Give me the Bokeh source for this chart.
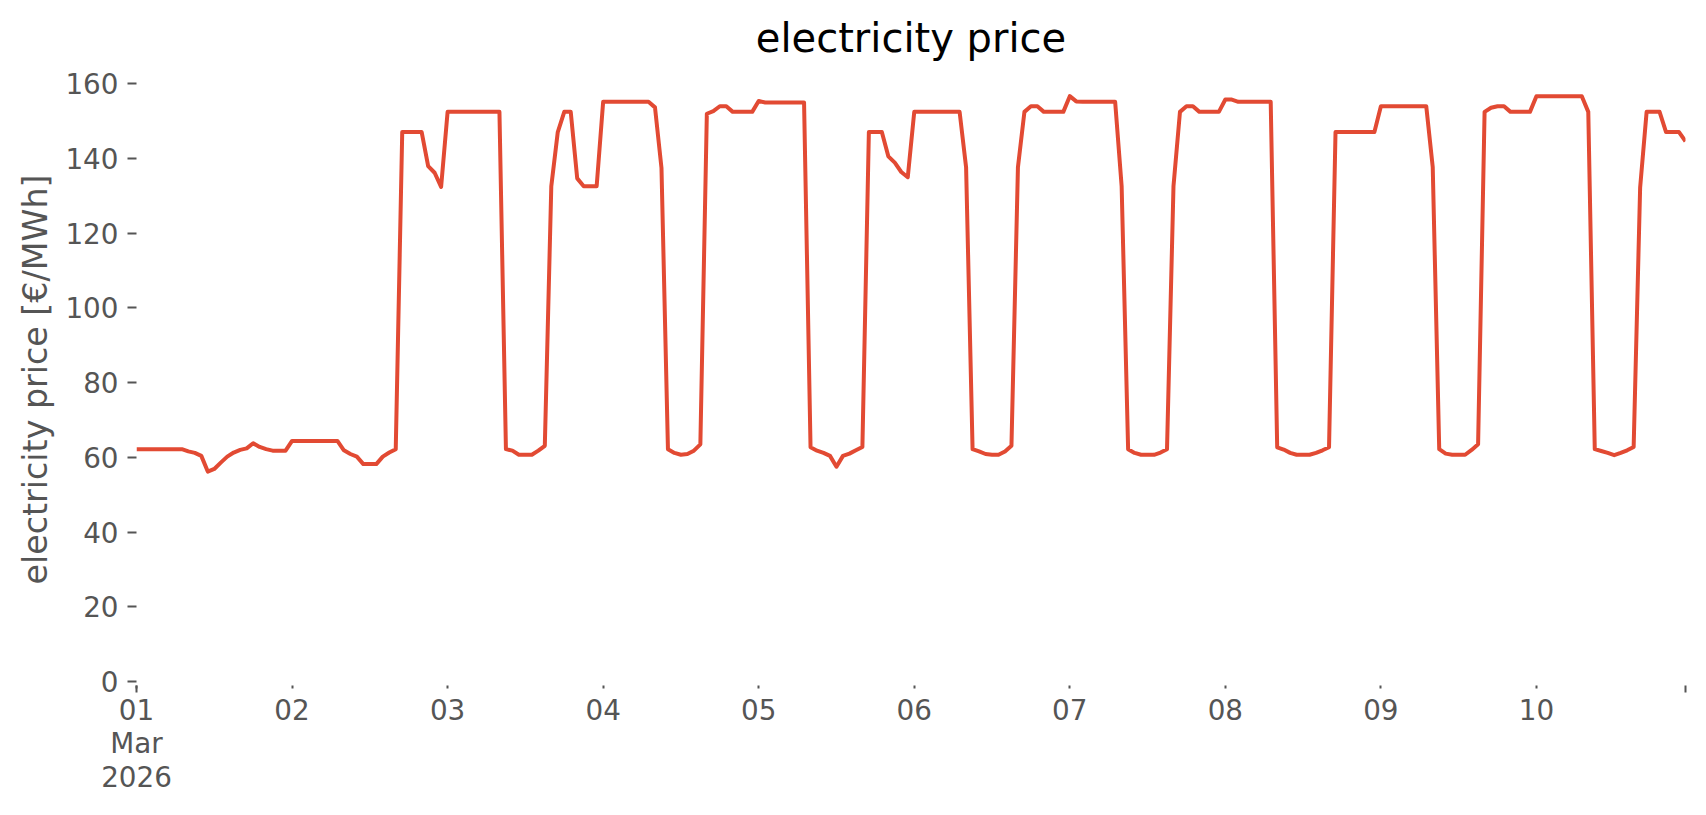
import pandas as pd
from bokeh.plotting import figure
from bokeh.models import ColumnDataSource, FixedTicker, Range1d, Title
from bokeh.embed import file_html
from bokeh.resources import INLINE

# hourly electricity price [€/MWh], 01 Mar 2026 00:00 .. 10 Mar 2026 23:00
day01 = [62.2, 62.2, 62.2, 62.2, 62.2, 62.2, 62.2, 62.2, 61.6, 61.2, 60.4, 56.2,
         56.9, 58.6, 60.2, 61.3, 62.0, 62.4, 63.8, 62.8, 62.2, 61.8, 61.8, 61.8]
day02 = [64.4, 64.4, 64.4, 64.4, 64.4, 64.4, 64.4, 64.4, 61.9, 60.9, 60.2, 58.2,
         58.2, 58.2, 60.2, 61.3, 62.2, 147.1, 147.1, 147.1, 147.1, 138.0, 136.2, 132.4]
day03 = [152.5, 152.5, 152.5, 152.5, 152.5, 152.5, 152.5, 152.5, 152.5, 62.2, 61.8, 60.7,
         60.7, 60.7, 61.8, 63.1, 132.6, 147.1, 152.5, 152.5, 134.7, 132.6, 132.6, 132.6]
day04 = [155.2, 155.2, 155.2, 155.2, 155.2, 155.2, 155.2, 155.2, 153.7, 137.5, 62.2, 61.2,
         60.7, 60.9, 61.8, 63.5, 152.0, 152.7, 154.0, 154.0, 152.5, 152.5, 152.5, 152.5]
day05 = [155.4, 155.0, 155.0, 155.0, 155.0, 155.0, 155.0, 155.0, 62.7, 61.8, 61.2, 60.4,
         57.5, 60.4, 61.0, 61.9, 62.8, 147.1, 147.1, 147.1, 140.6, 138.9, 136.4, 135.0]
day06 = [152.5, 152.5, 152.5, 152.5, 152.5, 152.5, 152.5, 152.5, 137.7, 62.2, 61.6, 60.9,
         60.7, 60.7, 61.6, 63.1, 137.7, 152.5, 154.0, 154.0, 152.5, 152.5, 152.5, 152.5]
day07 = [156.7, 155.3, 155.2, 155.2, 155.2, 155.2, 155.2, 155.2, 132.6, 62.2, 61.2, 60.7,
         60.7, 60.7, 61.3, 62.2, 132.6, 152.5, 154.0, 154.0, 152.5, 152.5, 152.5, 152.5]
day08 = [155.8, 155.8, 155.2, 155.2, 155.2, 155.2, 155.2, 155.2, 62.7, 62.1, 61.2, 60.7,
         60.7, 60.7, 61.2, 61.9, 62.7, 147.1, 147.1, 147.1, 147.1, 147.1, 147.1, 147.1]
day09 = [154.0, 154.0, 154.0, 154.0, 154.0, 154.0, 154.0, 154.0, 137.7, 62.2, 61.0, 60.7,
         60.7, 60.7, 62.0, 63.5, 152.5, 153.6, 154.0, 154.0, 152.5, 152.5, 152.5, 152.5]
day10 = [156.7, 156.7, 156.7, 156.7, 156.7, 156.7, 156.7, 156.7, 152.5, 62.2, 61.7, 61.2,
         60.6, 61.2, 61.9, 62.8, 132.2, 152.5, 152.5, 152.5, 147.1, 147.1, 147.1, 144.6]

price = day01 + day02 + day03 + day04 + day05 + day06 + day07 + day08 + day09 + day10
time = pd.date_range("2026-03-01 00:00", periods=len(price), freq="h")

title_text = "electricity price"
y_label = "electricity price [€/MWh]"
x_tick_labels = ["01\nMar\n2026", "02", "03", "04", "05", "06", "07", "08", "09", "10"]
y_ticks = [0, 20, 40, 60, 80, 100, 120, 140, 160]

day_ticks = pd.date_range("2026-03-01", periods=len(x_tick_labels), freq="D")
day_ms = [int(t.value // 10**6) for t in day_ticks]
end_ms = int(time[-1].value // 10**6)

src = ColumnDataSource(data=dict(time=time, price=price))

FONT = "DejaVu Sans"
GREY = "#555555"

p = figure(
    x_axis_type="datetime",
    frame_width=1549, frame_height=604,
    min_border_left=136, min_border_right=10,
    min_border_top=77, min_border_bottom=112,
    x_range=Range1d(day_ms[0], end_ms),
    y_range=Range1d(0, 161.7),
    output_backend="svg", toolbar_location=None,
    background_fill_color="white", border_fill_color="white",
    outline_line_color=None,
)
p.title = Title(text=title_text, align="center", vertical_align="top",
                text_font=FONT, text_font_size="40px", text_font_style="normal",
                text_color="black", standoff=29)

p.line("time", "price", source=src, line_color="#E24A33", line_width=4,
       line_join="round")

p.xgrid.grid_line_color = None
p.ygrid.grid_line_color = None

xa = p.xaxis[0]
xa.ticker = FixedTicker(ticks=day_ms, minor_ticks=[day_ms[0], end_ms])
xa.major_label_overrides = {ms: lab for ms, lab in zip(day_ms, x_tick_labels)}
xa.axis_line_color = None
xa.major_tick_in = -4
xa.major_tick_out = 7
xa.minor_tick_in = -4
xa.minor_tick_out = 11
xa.major_tick_line_color = GREY
xa.minor_tick_line_color = GREY
xa.major_tick_line_width = 2
xa.minor_tick_line_width = 2
xa.major_label_text_font = FONT
xa.major_label_text_font_size = "27.8px"
xa.major_label_text_color = GREY
xa.major_label_text_line_height = 1.02
xa.major_label_standoff = 1

ya = p.yaxis[0]
ya.ticker = FixedTicker(ticks=y_ticks, minor_ticks=[])
ya.axis_line_color = None
ya.major_tick_in = 0
ya.major_tick_out = 9
ya.major_tick_line_color = GREY
ya.major_tick_line_width = 2
ya.minor_tick_line_color = None
ya.major_label_text_font = FONT
ya.major_label_text_font_size = "27.8px"
ya.major_label_text_color = GREY
ya.major_label_standoff = 9
ya.axis_label = y_label
ya.axis_label_text_font = FONT
ya.axis_label_text_font_size = "33.3px"
ya.axis_label_text_font_style = "normal"
ya.axis_label_text_color = GREY
ya.axis_label_standoff = 7

open("out.html", "w").write(file_html(p, INLINE))
